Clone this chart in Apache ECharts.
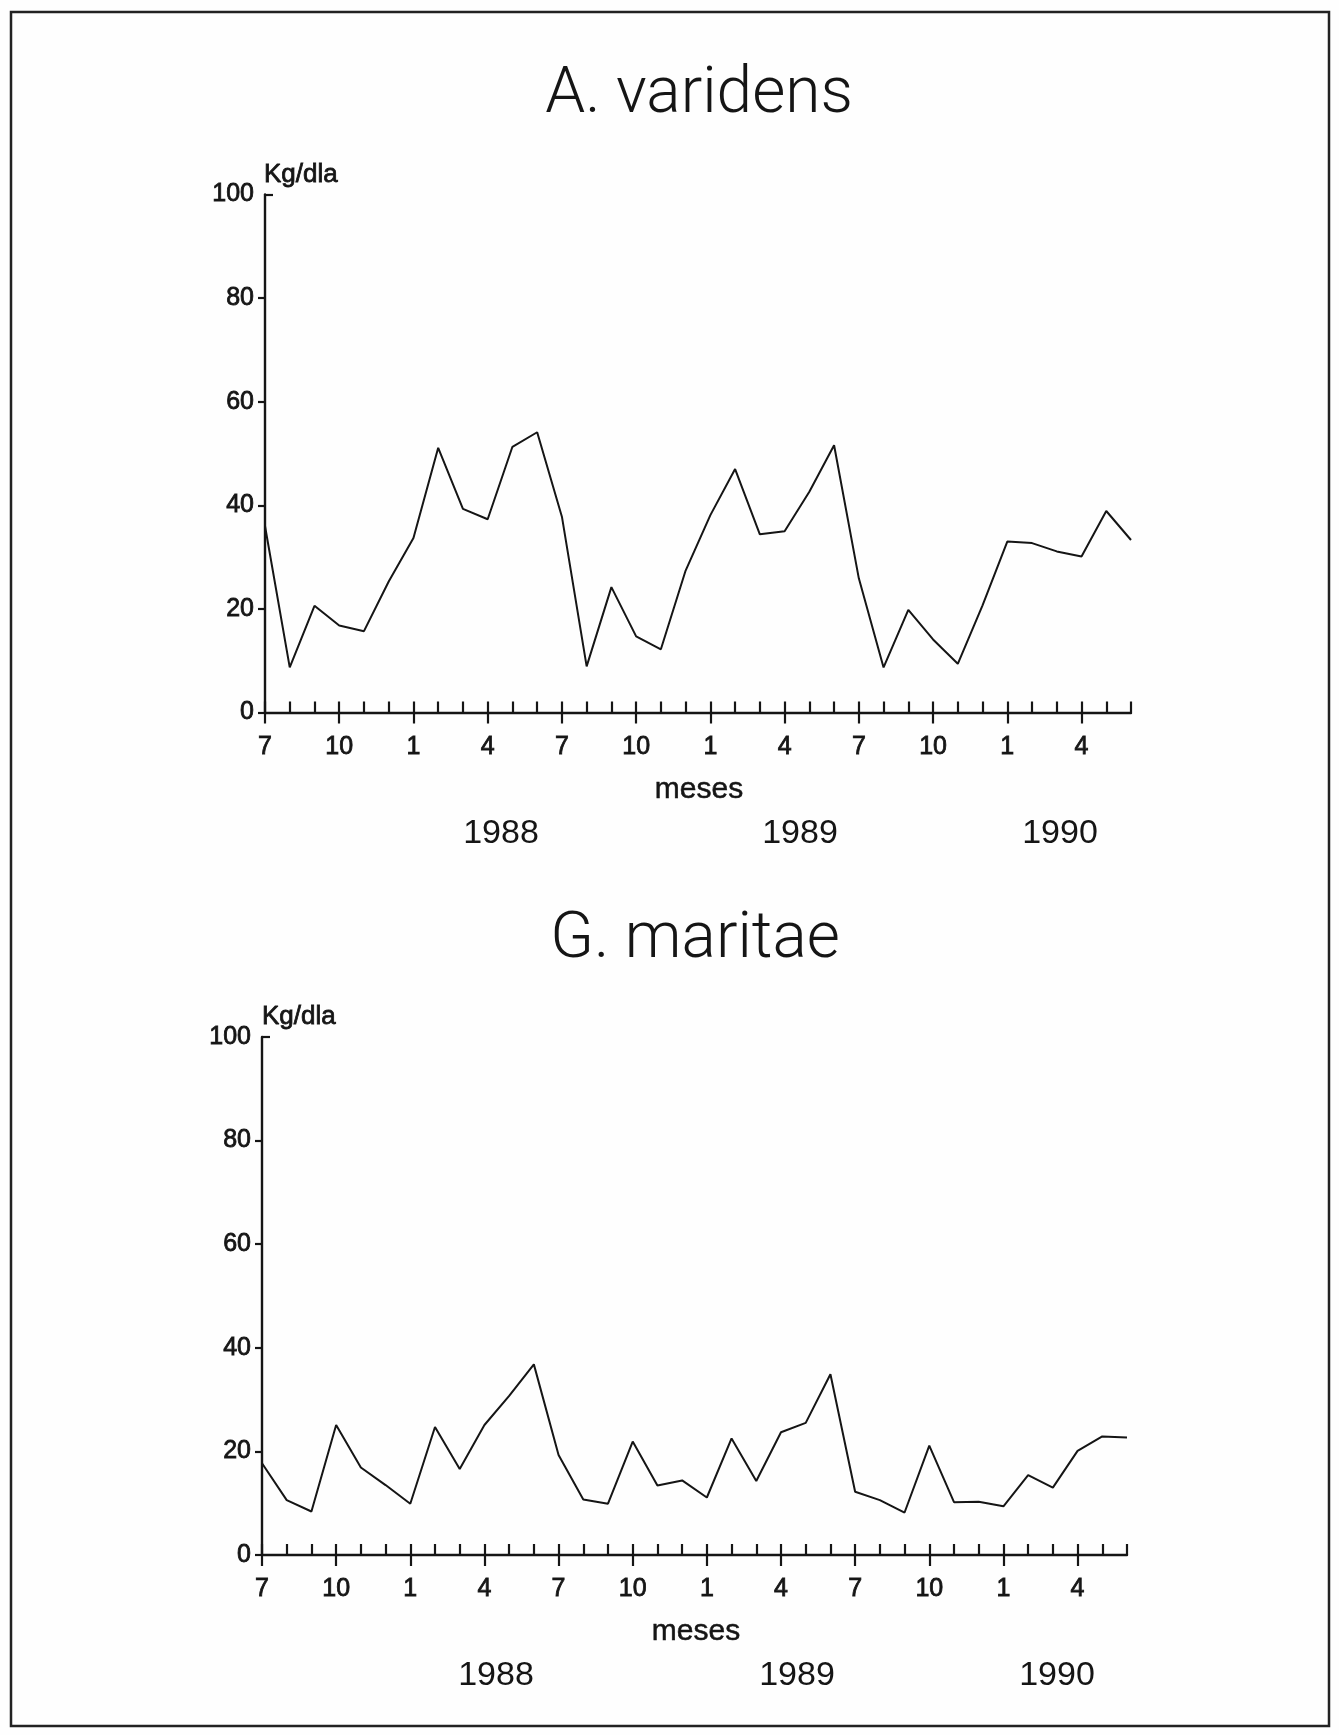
<!DOCTYPE html>
<html>
<head>
<meta charset="utf-8">
<script src="https://cdn.jsdelivr.net/npm/echarts@6/dist/echarts.min.js"></script>
<style>
html,body{margin:0;padding:0;background:#fefefe;}
#c{width:1339px;height:1735px;}
</style>
</head>
<body>
<div id="c"></div>
<script>
// ---- data ----
var months = ['7','8','9','10','11','12','1','2','3','4','5','6',
              '7','8','9','10','11','12','1','2','3','4','5','6',
              '7','8','9','10','11','12','1','2','3','4','5','6'];
var varidens = [36, 8.7, 20.6, 16.8, 15.7, 25.3, 33.7, 51.1, 39.3, 37.3, 51.3, 54.1,
                37.8, 8.9, 24.2, 14.7, 12.2, 27.4, 38.1, 47.0, 34.4, 35.0, 42.6, 51.6,
                25.9, 8.7, 19.8, 14.1, 9.4, 20.7, 33.0, 32.7, 31.1, 30.1, 38.9, 33.3];
var maritae = [17.7, 10.6, 8.4, 25.1, 16.9, 13.5, 9.9, 24.7, 16.6, 25.1, 30.7, 36.8,
               19.3, 10.7, 9.9, 21.9, 13.4, 14.4, 11.1, 22.5, 14.3, 23.7, 25.5, 34.9,
               12.2, 10.6, 8.2, 21.1, 10.2, 10.3, 9.4, 15.4, 13.0, 20.1, 22.9, 22.7];
var yTicks = [0, 20, 40, 60, 80, 100];
var years = ['1988', '1989', '1990'];
var titles = ['A. varidens', 'G. maritae'];
var yUnit = 'Kg/dla';
var xName = 'meses';

// ---- styling ----
var INK = '#151515';
var FONT = '"Liberation Sans", Arial, sans-serif';
var axisLineStyle = {color: INK, width: 2.4};
var tickStyle = {color: INK, width: 2.2};

var grids = [
  {left: 265, top: 194.5, width: 866, height: 518},
  {left: 262, top: 1037, width: 865, height: 518}
];

var labelStyle = {fontSize: 25, color: INK, fontFamily: FONT, textBorderColor: INK, textBorderWidth: 0.8};

var xAxes = [], yAxes = [], series = [];
var dataSets = [varidens, maritae];
grids.forEach(function (g, i) {
  xAxes.push({
    gridIndex: i, type: 'category', data: months, boundaryGap: false, position: 'bottom',
    axisLine: {show: true, lineStyle: axisLineStyle},
    axisTick: {show: true, inside: true, length: 11, interval: 0, lineStyle: tickStyle},
    axisLabel: {show: false}, splitLine: {show: false}
  });
  xAxes.push({
    gridIndex: i, type: 'category', data: months, boundaryGap: false, position: 'bottom',
    axisLine: {show: false},
    axisTick: {show: true, inside: false, length: 11, interval: 2, lineStyle: tickStyle},
    axisLabel: Object.assign({show: true, interval: 2, margin: 22}, labelStyle),
    splitLine: {show: false}
  });
  yAxes.push({
    gridIndex: i, type: 'value', min: 0, max: 100, interval: 20, position: 'left',
    axisLine: {show: true, lineStyle: axisLineStyle},
    axisTick: {show: true, inside: false, length: 7, lineStyle: tickStyle,
               customValues: yTicks.slice(0, yTicks.length - 1)},
    axisLabel: Object.assign({show: true, margin: 11, customValues: yTicks}, labelStyle),
    splitLine: {show: false}
  });
  yAxes.push({
    gridIndex: i, type: 'value', min: 0, max: 100, interval: 20, position: 'left', offset: 0,
    axisLine: {show: false},
    axisTick: {show: true, inside: true, length: 8, lineStyle: tickStyle,
               customValues: [yTicks[yTicks.length - 1]]},
    axisLabel: {show: false},
    splitLine: {show: false}
  });
  series.push({
    type: 'line', xAxisIndex: i * 2, yAxisIndex: i * 2, data: dataSets[i],
    symbol: 'none', smooth: false, silent: true,
    lineStyle: {color: INK, width: 2}
  });
});

function txt(s, x, y, size, align, weight, family, bold) {
  var st = {
    text: s, fill: INK, align: align || 'center', verticalAlign: 'middle',
    font: (weight || 'normal') + ' ' + size + 'px ' + (family || FONT)
  };
  if (bold) { st.stroke = INK; st.lineWidth = bold; }
  return {type: 'text', x: x, y: y, silent: true, style: st};
}

var TITLE_FONT = 'Roboto, "Liberation Sans", sans-serif';
var graphics = [
  {type: 'rect', shape: {x: 11, y: 12, width: 1318, height: 1714}, silent: true,
   style: {fill: 'none', stroke: '#222', lineWidth: 2.5}},
  txt(titles[0], 699, 96, 64, 'center', '300', TITLE_FONT),
  txt(titles[1], 695, 941, 64, 'center', '300', TITLE_FONT),
  txt(yUnit, 264, 175, 26, 'left', 'normal', FONT, 0.8),
  txt(yUnit, 262, 1017, 26, 'left', 'normal', FONT, 0.8),
  txt(xName, 699, 790, 30, 'center', 'normal', FONT, 0.5),
  txt(xName, 696, 1632, 30, 'center', 'normal', FONT, 0.5),
  txt(years[0], 501, 834, 34),
  txt(years[1], 800, 834, 34),
  txt(years[2], 1060, 834, 34),
  txt(years[0], 496, 1676, 34),
  txt(years[1], 797, 1676, 34),
  txt(years[2], 1057, 1676, 34)
];

var chart = echarts.init(document.getElementById('c'), null, {renderer: 'canvas'});
chart.setOption({
  backgroundColor: '#fefefe',
  animation: false,
  grid: grids,
  xAxis: xAxes,
  yAxis: yAxes,
  series: series,
  graphic: graphics
});
</script>
</body>
</html>
